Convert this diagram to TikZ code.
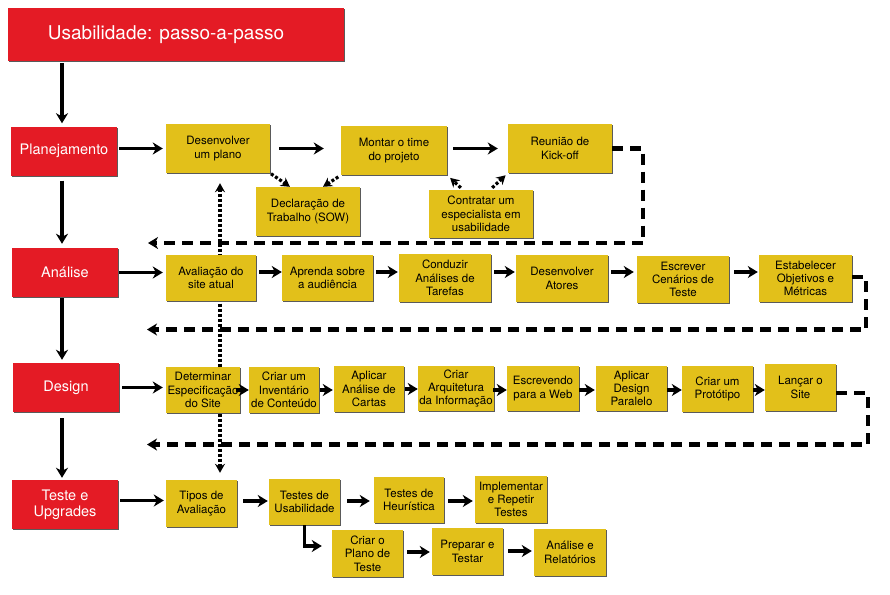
\documentclass[tikz,border=0pt]{standalone}
\usepackage{fontspec}
\setmainfont{TeX Gyre Heros}
\usetikzlibrary{arrows.meta,shadows,backgrounds,calc}
\definecolor{rboxc}{RGB}{228,27,37}
\definecolor{yboxc}{RGB}{226,192,26}
\definecolor{shadc}{RGB}{90,90,90}
\tikzset{
  boxbase/.style={rectangle, inner sep=0pt,
    general shadow={fill=shadc, shadow xshift=1.4pt, shadow yshift=-1.4pt}},
  sz/.style 2 args={minimum width=#1pt, minimum height=#2pt},
  titlebox/.style={boxbase, fill=rboxc, text=white, font=\fontsize{19}{22}\selectfont},
  rbox/.style={boxbase, align=center, fill=rboxc, text=white,
    font=\fontsize{14.5}{16}\selectfont, minimum width=106pt, minimum height=49pt},
  ybox/.style={boxbase, align=center, fill=yboxc, text=black,
    font=\fontsize{11.5}{13.3}\selectfont},
  tipA/.style={-{Stealth[length=10pt,width=12pt,inset=3pt]}},
  arr/.style={line width=3.4pt, tipA},
  dsh/.style={line width=4.3pt, dash pattern=on 11pt off 7pt, tipA},
  dotarr/.style={line width=3.2pt, dash pattern=on 3pt off 2pt,
    -{Stealth[length=9pt,width=10pt,inset=3pt]}},
}
\begin{document}
\begin{tikzpicture}[x=1pt,y=-1pt]
\useasboundingbox (0,0) rectangle (890,594);

% title and phases
\node[titlebox, sz={336}{53}] (title) at (176,34.5) {Usabilidade: passo-a-passo\hspace*{20pt}};
\node[rbox] (plan) at (64,151) {Planejamento};
\node[rbox] (anal) at (65,272.5) {Análise};
\node[rbox] (design) at (66,387.5) {Design};
\node[rbox] (teste) at (65,504.5) {Teste e\\Upgrades};

% row 1
\node[ybox, sz={104}{49}] (dplan) at (218,148.5) {Desenvolver\\um plano};
\node[ybox, sz={106}{49}] (montar) at (394,150.5) {Montar o time\\do projeto};
\node[ybox, sz={104}{49}] (reuniao) at (560,148.5) {Reunião de\\Kick-off};
\node[ybox, sz={104}{49}] (sow) at (308,211.5) {Declaração de\\Trabalho (SOW)};
\node[ybox, sz={104}{48}] (contratar) at (481,214) {Contratar um\\especialista em\\usabilidade};

% row 2
\node[ybox, sz={90}{46}] (aval) at (211,278) {Avaliação do\\site atual};
\node[ybox, sz={91}{46}] (aprenda) at (327.5,278) {Aprenda sobre\\a audiência};
\node[ybox, sz={92}{48}] (conduzir) at (445,278) {Conduzir\\Análises de\\Tarefas};
\node[ybox, sz={92}{47}] (atores) at (562,278.5) {Desenvolver\\Atores};
\node[ybox, sz={92}{47}] (cenarios) at (683,279.5) {Escrever\\Cenários de\\Teste};
\node[ybox, sz={93}{47}] (objetivos) at (805.5,278.5) {Estabelecer\\Objetivos e\\Métricas};

% row 3
\node[ybox, sz={74}{46}] (determinar) at (203,390) {Determinar\\Especificação\\do Site};
\node[ybox, sz={70}{46}] (inventario) at (284,390) {Criar um\\Inventário\\de Conteúdo};
\node[ybox, sz={70}{46}] (cartas) at (369,389) {Aplicar\\Análise de\\Cartas};
\node[ybox, sz={76}{45}] (arquitetura) at (456,388.5) {Criar\\Arquitetura\\da Informação};
\node[ybox, sz={72}{45}] (web) at (543,388.5) {Escrevendo\\para a Web};
\node[ybox, sz={71}{45}] (paralelo) at (631.5,388.5) {Aplicar\\Design\\Paralelo};
\node[ybox, sz={71}{46}] (prototipo) at (717.5,389) {Criar um\\Protótipo};
\node[ybox, sz={71}{47}] (lancar) at (800.5,387.5) {Lançar o\\Site};

% row 4
\node[ybox, sz={71}{47}] (tipos) at (201.5,503.5) {Tipos de\\Avaliação};
\node[ybox, sz={71}{46}] (usab) at (304.5,502) {Testes de\\Usabilidade};
\node[ybox, sz={70}{46}] (heur) at (409,500) {Testes de\\Heurística};
\node[ybox, sz={72}{47}] (impl) at (511,499.5) {Implementar\\e Repetir\\Testes};
\node[ybox, sz={71}{47}] (criarplano) at (367.5,553.5) {Criar o\\Plano de\\Teste};
\node[ybox, sz={71}{47}] (preparar) at (467.5,551.5) {Preparar e\\Testar};
\node[ybox, sz={72}{47}] (relat) at (570,552.5) {Análise e\\Relatórios};

% free ends of the return lines
\coordinate (r1end) at (148,243);
\coordinate (r2end) at (147,329.5);
\coordinate (r3end) at (147,444.5);

% left column
\draw[arr, shorten <=2pt, shorten >=3pt] ([xshift=-2pt]title.south -| plan.north) -- ([xshift=-2pt]plan.north);
\draw[arr, shorten <=5pt, shorten >=4pt] ([xshift=-2pt]plan.south) -- ([xshift=-2pt]plan.south |- anal.north);
\draw[arr, shorten <=1pt, shorten >=3pt] ([xshift=-3pt]anal.south) -- ([xshift=-3pt]anal.south |- design.north);
\draw[arr, shorten <=6pt, shorten >=2pt] ([xshift=-4pt]design.south) -- ([xshift=-4pt]design.south |- teste.north);

% row 1 connectors
\draw[arr, shorten <=2pt, shorten >=3pt] (plan.east |- dplan.west) -- (dplan.west);
\draw[arr, shorten <=9pt, shorten >=17pt] (dplan.east) -- (dplan.east -| montar.west);
\draw[arr, shorten <=6pt, shorten >=10pt] ([yshift=2pt]montar.east) -- ([yshift=2pt]montar.east -| reuniao.west);
\draw[dotarr, shorten <=1pt] (dplan.south east) -- ([xshift=-18pt]sow.north);
\draw[dotarr, shorten <=3pt] (montar.south west) -- ([xshift=15pt]sow.north);
\draw[dotarr, shorten <=3pt, shorten >=4pt] ([xshift=-18pt]contratar.north) -- (montar.south east);
\draw[dotarr, shorten <=3pt, shorten >=3pt] ([xshift=9pt]contratar.north) -- (reuniao.south west);
\draw[dsh] (reuniao.east) -- ++(31,0) |- (r1end);

% row 2 connectors
\draw[arr, shorten <=1pt, shorten >=3pt] (anal.east) -- (anal.east -| aval.west);
\draw[arr, shorten <=3pt] ([yshift=6pt]aval.east) -- ([yshift=6pt]aval.east -| aprenda.west);
\draw[arr, shorten <=3pt, shorten >=1pt] ([yshift=6pt]aprenda.east) -- ([yshift=6pt]aprenda.east -| conduzir.west);
\draw[arr, shorten <=3pt, shorten >=1pt] ([yshift=6pt]conduzir.east) -- ([yshift=6pt]conduzir.east -| atores.west);
\draw[arr, shorten <=3pt, shorten >=3pt] ([yshift=6.5pt]atores.east) -- ([yshift=6.5pt]atores.east -| cenarios.west);
\draw[arr, shorten <=5pt, shorten >=1pt] ([yshift=7.5pt]cenarios.east) -- ([yshift=7.5pt]cenarios.east -| objetivos.west);
\draw[dsh] ([yshift=1.5pt]objetivos.east) -- ++(14,0) |- (r2end);

% row 3 connectors
\draw[arr, shorten <=3pt, shorten >=3pt] (design.east) -- (design.east -| determinar.west);
\draw[arr, shorten <=-4pt] (determinar.east) -- (determinar.east -| inventario.west);
\draw[arr, shorten <=1pt, shorten >=1pt] (inventario.east) -- (inventario.east -| cartas.west);
\draw[arr, shorten <=1pt] (cartas.east) -- (cartas.east -| arquitetura.west);
\draw[arr, shorten <=-1pt] ([yshift=-1.5pt]arquitetura.east) -- ([yshift=-1.5pt]arquitetura.east -| web.west);
\draw[arr, shorten >=1pt] ([yshift=-1.5pt]web.east) -- ([yshift=-1.5pt]web.east -| paralelo.west);
\draw[arr] ([yshift=-1.5pt]paralelo.east) -- ([yshift=-1.5pt]paralelo.east -| prototipo.west);
\draw[arr] ([yshift=-1pt]prototipo.east) -- ([yshift=-1pt]prototipo.east -| lancar.west);
\draw[dsh] ([yshift=-5.5pt]lancar.east) -- ++(32,0) |- (r3end);

% row 4 connectors
\draw[arr, shorten <=2pt, shorten >=2pt] ([yshift=4pt]teste.east) -- ([yshift=4pt]teste.east -| tipos.west);
\draw[arr, shorten <=6pt, shorten >=1pt] ([yshift=2.5pt]tipos.east) -- ([yshift=2.5pt]tipos.east -| usab.west);
\draw[arr, shorten <=7pt, shorten >=4pt] ([yshift=1pt]usab.east) -- ([yshift=1pt]usab.east -| heur.west);
\draw[arr, shorten <=4pt, shorten >=2pt] ([yshift=-1pt]heur.east) -- ([yshift=-1pt]heur.east -| impl.west);
\draw[arr, shorten >=10pt] (usab.south) |- ([yshift=7.5pt]criarplano.west);
\draw[arr, shorten <=4pt, shorten >=2pt] ([yshift=1.5pt]criarplano.east) -- ([yshift=1.5pt]criarplano.east -| preparar.west);
\draw[arr, shorten <=5pt, shorten >=2pt] ([yshift=0.5pt]preparar.east) -- ([yshift=0.5pt]preparar.east -| relat.west);

% vertical dotted link behind the boxes
\begin{scope}[on background layer]
\draw[dotarr, {Stealth[length=9pt,width=10pt,inset=3pt]}-{Stealth[length=9pt,width=10pt,inset=3pt]}, shorten <=10pt, shorten >=7pt]
  ([xshift=2pt]dplan.south) -- ([xshift=2pt]dplan.south |- tipos.north);
\end{scope}
\end{tikzpicture}
\end{document}
